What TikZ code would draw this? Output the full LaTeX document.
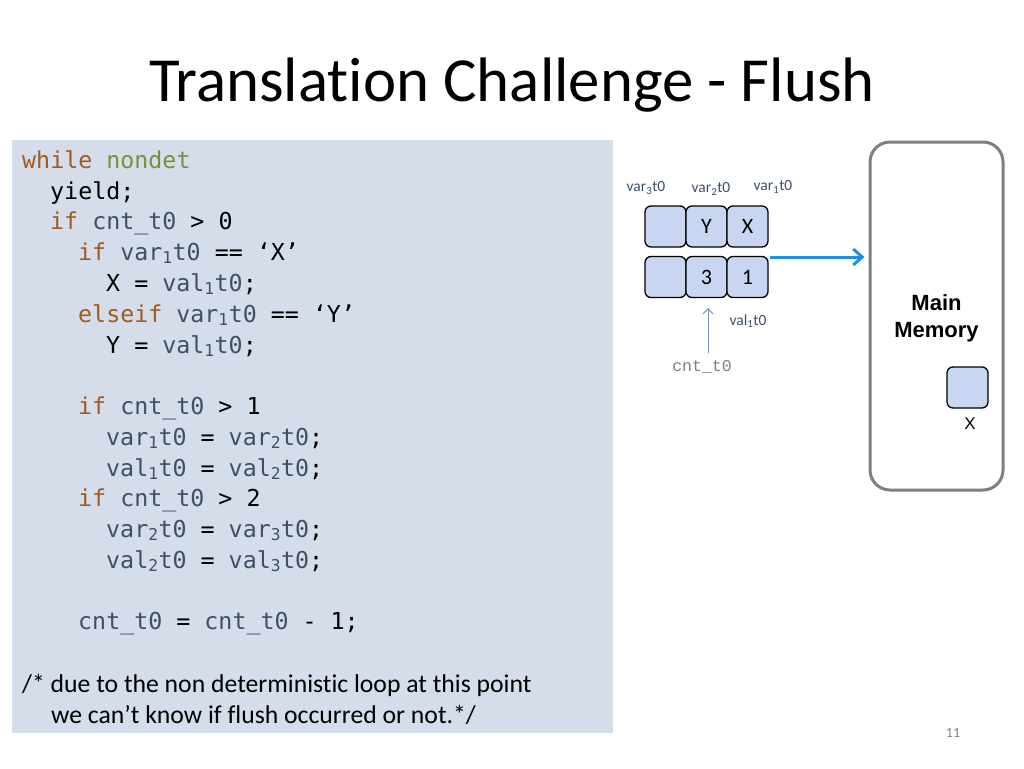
\documentclass[tikz,border=0pt]{standalone}
\usepackage{fontspec}
\setmainfont{Carlito}[Ligatures=NoCommon]
\newfontfamily\codefont{DejaVu Sans Mono}
\newfontfamily\arialfont{Liberation Sans}
\newfontfamily\courfont{Liberation Mono}
\usetikzlibrary{arrows.meta}
\definecolor{codebg}{HTML}{D5DCEA}
\definecolor{cellc}{HTML}{C8D6F2}
\definecolor{kwc}{HTML}{A25A1E}
\definecolor{grn}{HTML}{76923C}
\definecolor{idc}{HTML}{3E5068}
\definecolor{flowc}{HTML}{1E90E8}
\definecolor{memc}{HTML}{7F7F7F}
\definecolor{thinc}{HTML}{7F93B8}
\newcommand\kw[1]{\textcolor{kwc}{#1}}
\newcommand\idf[1]{\textcolor{idc}{#1}}
\newcommand\sbs[1]{\textsubscript{#1}}
\tikzset{
  codeline/.style={anchor=base west, inner sep=0pt, font=\codefont\fontsize{23.3}{28}\selectfont},
  cmt/.style={anchor=base west, inner sep=0pt, font=\fontsize{25.7}{30}\selectfont},
  cell/.style={draw=black, line width=1.3pt, rounded corners=6pt, fill=cellc, minimum width=41pt, minimum height=41pt, inner sep=0pt, font=\fontsize{22}{24}\selectfont},
  smalllab/.style={inner sep=0pt, font=\fontsize{15.5}{18}\selectfont, text=idc},
}
\begin{document}
\begin{tikzpicture}[x=1pt,y=-1pt]
\useasboundingbox[fill=white] (0,0) rectangle (1024,768);
% title
\node[anchor=base, inner sep=0pt, font=\fontsize{62.8}{70}\selectfont] (title) at (512,101) {Translation Challenge - Flush};
% code panel
\node[fill=codebg, minimum width=601pt, minimum height=593pt, inner sep=0pt, anchor=north west] (panel) at (12,140) {};
\node[codeline] (l1) at (22,168) {\kw{while} \textcolor{grn}{nondet}};
\node[codeline] (l2) at (50,199) {yield;};
\node[codeline] (l3) at (50,229) {\kw{if} \idf{cnt\_t0} > 0};
\node[codeline] (l4) at (78,260) {\kw{if} \idf{var\sbs{1}t0} == ‘X’};
\node[codeline] (l5) at (106,291) {X = \idf{val\sbs{1}t0};};
\node[codeline] (l6) at (78,322) {\kw{elseif} \idf{var\sbs{1}t0} == ‘Y’};
\node[codeline] (l7) at (106,353) {Y = \idf{val\sbs{1}t0};};
\node[codeline] (l8) at (78,414) {\kw{if} \idf{cnt\_t0} > 1};
\node[codeline] (l9) at (106,445) {\idf{var\sbs{1}t0} = \idf{var\sbs{2}t0};};
\node[codeline] (l10) at (106,476) {\idf{val\sbs{1}t0} = \idf{val\sbs{2}t0};};
\node[codeline] (l11) at (78,506) {\kw{if} \idf{cnt\_t0} > 2};
\node[codeline] (l12) at (106,537) {\idf{var\sbs{2}t0} = \idf{var\sbs{3}t0};};
\node[codeline] (l13) at (106,568) {\idf{val\sbs{2}t0} = \idf{val\sbs{3}t0};};
\node[codeline] (l14) at (78,629) {\idf{cnt\_t0} = \idf{cnt\_t0} - 1;};
\node[cmt] (c1) at (22,692) {/* due to the non deterministic loop at this point};
\node[cmt] (c2) at (51,723) {we can’t know if flush occurred or not.*/};
% store buffer cells
\node[cell] (a3) at (665.5,226.5) {};
\node[cell] (a2) at (706.5,226.5) {Y};
\node[cell] (a1) at (747.5,226.5) {X};
\node[cell] (b3) at (665.5,277) {};
\node[cell] (b2) at (706.5,277) {3};
\node[cell] (b1) at (747.5,277) {1};
\node[smalllab] (v3) at (646,188) {var\sbs{3}t0};
\node[smalllab] (v2) at (711,189) {var\sbs{2}t0};
\node[smalllab] (v1) at (773,187) {var\sbs{1}t0};
\node[smalllab] (w1) at (748,321) {val\sbs{1}t0};
\node[inner sep=0pt, font=\courfont\fontsize{16.5}{18}\selectfont, text=gray] (cnt) at (702,367) {cnt\_t0};
% main memory
\node[draw=memc, line width=3pt, rounded corners=20pt, minimum width=133pt, minimum height=348pt] (mm) at (936.5,316) {};
\node[inner sep=0pt, align=center, font=\arialfont\bfseries\fontsize{22}{27}\selectfont] (mml) at (936.5,318.5) {Main\\Memory};
\node[cell] (mx) at (967.5,387.5) {};
\node[inner sep=0pt, font=\arialfont\fontsize{17}{20}\selectfont] (mxl) at (970,424) {X};
% arrows
\coordinate (as) at (770,257);
\draw[flowc, line width=3pt, -{Straight Barb[length=9pt,width=16pt,line width=3pt]}] (as) -- ([xshift=-4pt]mm.west |- as);
\draw[thinc, line width=1pt, -{Straight Barb[length=5pt,width=10pt]}] ([xshift=6pt,yshift=7pt]cnt.north) -- ([xshift=1.5pt,yshift=-10pt]b2.south);
% page number
\node[inner sep=0pt, text=gray, font=\fontsize{14}{16}\selectfont] (pg) at (953,733) {11};
\end{tikzpicture}
\end{document}
